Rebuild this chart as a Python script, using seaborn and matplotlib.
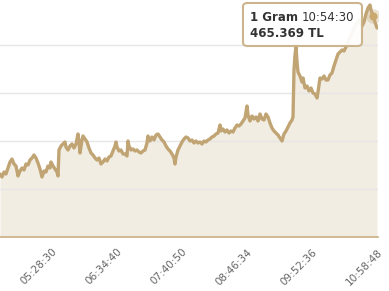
import matplotlib
matplotlib.use("Agg")
import matplotlib.pyplot as plt
import seaborn as sns
import pandas as pd
from matplotlib.patches import FancyBboxPatch

# sample index (position along the category axis) and the vertical pixel row
sample_idx = [0, 2, 4, 6, 8, 10, 12, 14, 16, 18, 20, 22, 24, 26, 28, 30, 32, 34, 36, 38,
              40, 42, 44, 46, 48, 50, 51, 53, 55, 57, 58, 59, 61, 63, 65, 66, 68, 70, 72,
              74, 76, 78, 79, 80, 82, 83, 85, 87, 89, 91, 93, 95, 97, 99, 101, 103, 105,
              107, 109, 111, 113, 115, 116, 117, 119, 121, 123, 125, 127, 128, 129, 131,
              133, 135, 137, 139, 141, 143, 145, 147, 148, 150, 152, 154, 156, 158, 160,
              162, 164, 166, 168, 170, 172, 174, 175, 176, 178, 180, 182, 184, 186, 188,
              190, 192, 194, 196, 198, 200, 202, 204, 206, 208, 210, 212, 214, 216, 218,
              220, 221, 223, 225, 227, 229, 231, 233, 235, 237, 239, 241, 243, 245, 247,
              248, 250, 252, 254, 256, 258, 260, 262, 264, 266, 268, 270, 272, 274, 276,
              278, 280, 282, 284, 286, 288, 290, 292, 293, 294, 295, 296, 297, 298, 300,
              302, 303, 305, 307, 309, 311, 313, 315, 317, 318, 320, 322, 324, 326, 328,
              330, 332, 334, 336, 338, 340, 342, 344, 346, 348, 350, 352, 354, 356, 358,
              360, 362, 364, 366, 368, 370, 371, 373, 375, 377]
pixel_rows = [174, 177, 172, 174, 168, 162, 159, 164, 166, 176, 171, 168, 170, 164, 165,
              160, 158, 155, 158, 163, 169, 177, 171, 172, 166, 168, 162, 166, 169, 172,
              176, 150, 146, 144, 142, 147, 150, 146, 144, 148, 144, 134, 142, 153, 140,
              136, 139, 142, 148, 153, 155, 158, 160, 158, 164, 162, 159, 161, 157, 156,
              151, 146, 142, 147, 151, 150, 154, 154, 156, 141, 146, 150, 149, 151, 150,
              152, 153, 151, 150, 143, 136, 141, 137, 140, 135, 134, 137, 140, 142, 146,
              149, 151, 154, 158, 164, 157, 150, 146, 142, 139, 137, 138, 141, 140, 143,
              141, 143, 142, 144, 141, 142, 140, 139, 137, 136, 134, 133, 125, 131, 129,
              132, 130, 133, 131, 132, 128, 125, 126, 124, 121, 118, 106, 115, 121, 116,
              119, 117, 121, 114, 119, 120, 114, 117, 123, 128, 131, 133, 135, 138, 141,
              134, 131, 127, 123, 120, 117, 70, 55, 47, 62, 72, 76, 82, 78, 88, 86, 91,
              88, 93, 94, 98, 92, 78, 79, 76, 80, 80, 75, 73, 66, 60, 54, 52, 50, 51, 47,
              42, 37, 34, 28, 24, 22, 20, 26, 22, 14, 8, 5, 10, 16, 22, 28]
# convert read positions to prices (grid step 2.5 TL per 48 px, baseline 454 at 237 px)
prices = [round(454 + (237 - r) / 48 * 2.5, 3) for r in pixel_rows]

tick_positions = [52, 117, 182, 247, 312, 377]
tick_labels = ["05:28:30", "06:34:40", "07:40:50", "08:46:34", "09:52:36", "10:58:48"]
grid_values = [456.5, 459.0, 461.5, 464.0]
hover_idx = 373

df = pd.DataFrame({"idx": sample_idx, "price": prices})

sns.set_style("white")
plt.rcParams["font.family"] = ["DejaVu Sans"]

fig = plt.figure(figsize=(3.89, 2.91), dpi=100)
ax = fig.add_axes([0, 1 - 237 / 291, 378 / 389, 237 / 291])

ymin = 454.0
ymax = 464.0 + 45 / 48 * 2.5
ax.fill_between(df["idx"], df["price"], ymin, color="#f2ede3", linewidth=0, zorder=1)
sns.lineplot(data=df, x="idx", y="price", ax=ax, color="#c1a473", linewidth=2.4, zorder=3)

ax.set_xlim(0, 378)
ax.set_ylim(ymin, ymax)
for g in grid_values:
    ax.axhline(g, color="#e6e6e6", linewidth=1, zorder=2)

ax.set_xlabel("")
ax.set_ylabel("")
ax.set_yticks([])
ax.set_xticks(tick_positions)
ax.set_xticklabels(tick_labels, rotation=45, ha="right", rotation_mode="anchor",
                   fontsize=7.5, color="#666666")
ax.tick_params(axis="x", direction="out", length=5, width=1, color="#c8b084", pad=2)
for s in ["left", "right", "top"]:
    ax.spines[s].set_visible(False)
ax.spines["bottom"].set_color("#c8b084")
ax.spines["bottom"].set_linewidth(1.2)

# hovered point marker
hi = sample_idx.index(hover_idx)
ax.scatter([sample_idx[hi]], [prices[hi]], s=110, color="#c8ad7f", alpha=0.35,
           zorder=4, linewidths=0)
ax.scatter([sample_idx[hi]], [prices[hi]], s=34, color="#c9a96e", zorder=5,
           linewidths=0)

# tooltip
box = FancyBboxPatch((243 / 389, 1 - 46 / 291), 119 / 389, 43 / 291,
                     boxstyle="round,pad=0,rounding_size=0.012",
                     transform=fig.transFigure, facecolor="white", edgecolor="#c8b084",
                     linewidth=1.5, zorder=10, alpha=0.93)
fig.patches.append(box)
t1 = fig.text(250 / 389, 1 - 21 / 291, "1 Gram", fontsize=8.5, fontweight="bold",
              color="#333333", va="baseline", zorder=11)
fig.canvas.draw()
bb = t1.get_window_extent(renderer=fig.canvas.get_renderer())
fig.text((bb.x1 + 4) / 389, 1 - 21 / 291, "10:54:30", fontsize=8.5, color="#333333",
         va="baseline", zorder=11)
fig.text(250 / 389, 1 - 37 / 291, "465.369 TL", fontsize=8.5, fontweight="bold",
         color="#333333", va="baseline", zorder=11)

fig.savefig("out.png", dpi=100)
